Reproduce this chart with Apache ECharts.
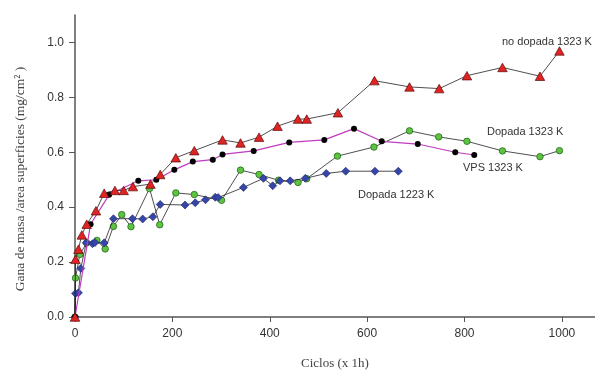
<!DOCTYPE html>
<html>
<head>
<meta charset="utf-8">
<script src="https://cdn.jsdelivr.net/npm/echarts@6.0.0/dist/echarts.min.js"></script>
<style>
html,body{margin:0;padding:0;background:#fff;}
#chart{width:595px;height:375px;}
</style>
</head>
<body>
<div id="chart"></div>
<script>
// ---- data ----
var xTicks = [0, 200, 400, 600, 800, 1000];
var yTicks = [0, 0.2, 0.4, 0.6, 0.8, 1.0];

var noDopada1323X = [0, 1, 7, 14, 24, 43, 60, 82, 100, 119, 155, 175, 207, 245, 303, 340, 378, 416, 458, 476, 540, 615, 687, 748, 805, 878, 955, 995];
var noDopada1323Y = [0, 0.21, 0.247, 0.299, 0.338, 0.387, 0.451, 0.461, 0.461, 0.475, 0.484, 0.519, 0.58, 0.606, 0.645, 0.634, 0.655, 0.695, 0.721, 0.721, 0.744, 0.861, 0.838, 0.832, 0.879, 0.909, 0.877, 0.969];

var vps1323X = [0, 32, 70, 130, 167, 204, 242, 283, 303, 367, 440, 512, 573, 630, 704, 781, 820];
var vps1323Y = [0, 0.338, 0.445, 0.496, 0.5, 0.536, 0.566, 0.573, 0.592, 0.605, 0.636, 0.645, 0.686, 0.64, 0.63, 0.6, 0.59];

var dopada1323X = [0, 1, 10, 24, 45, 62, 79, 96, 115, 153, 174, 207, 245, 301, 340, 378, 418, 458, 476, 539, 614, 687, 747, 805, 878, 955, 995];
var dopada1323Y = [0, 0.142, 0.228, 0.27, 0.279, 0.248, 0.33, 0.373, 0.329, 0.468, 0.336, 0.452, 0.446, 0.425, 0.535, 0.519, 0.498, 0.49, 0.504, 0.586, 0.619, 0.678, 0.656, 0.64, 0.605, 0.584, 0.606];

var dopada1223X = [0, 1, 7, 12, 23, 36, 41, 60, 79, 118, 139, 160, 175, 226, 247, 268, 288, 294, 346, 387, 406, 421, 442, 473, 516, 556, 616, 664];
var dopada1223Y = [0, 0.086, 0.088, 0.177, 0.27, 0.267, 0.271, 0.27, 0.358, 0.358, 0.357, 0.365, 0.41, 0.408, 0.416, 0.427, 0.436, 0.435, 0.472, 0.505, 0.478, 0.496, 0.496, 0.505, 0.523, 0.531, 0.531, 0.531];

var seriesNames = ['Dopada 1323 K', 'Dopada 1223 K', 'VPS 1323 K', 'no dopada 1323 K'];
var xTitle = 'Ciclos (x 1h)';
var yTitle = 'Gana de masa /area superficies (mg/cm\u00B2 )';

function zip(xs, ys) { return xs.map(function (x, i) { return [x, ys[i]]; }); }

var chart = echarts.init(document.getElementById('chart'), null, {renderer: 'canvas'});
var labelFont = 'Liberation Sans, Arial, sans-serif';
var serif = 'Liberation Serif, Times New Roman, serif';

var option = {
  animation: false,
  backgroundColor: '#ffffff',
  grid: {left: 75, right: 0, top: 15, bottom: 47.3, containLabel: false},
  xAxis: {
    type: 'value', min: 0, max: 1068,
    name: xTitle, nameLocation: 'middle', nameGap: 40,
    nameTextStyle: {fontFamily: serif, fontSize: 13, color: '#444'},
    axisLine: {lineStyle: {color: '#555', width: 1.5}},
    axisTick: {show: true, inside: false, length: 5, lineStyle: {color: '#555'}, customValues: xTicks},
    axisLabel: {customValues: xTicks, fontFamily: labelFont, fontSize: 12, color: '#333', margin: 11,
      formatter: function (v) { return String(v); }},
    splitLine: {show: false}
  },
  yAxis: {
    type: 'value', min: 0, max: 1.1,
    axisLine: {show: true, lineStyle: {color: '#555', width: 1.5}},
    axisTick: {show: true, inside: false, length: 6, lineStyle: {color: '#555'}, customValues: yTicks},
    axisLabel: {customValues: yTicks, fontFamily: labelFont, fontSize: 12, color: '#333', margin: 11,
      formatter: function (v) { return v.toFixed(1); }},
    splitLine: {show: false}
  },
  series: [
    {
      name: seriesNames[0], type: 'line', data: zip(dopada1323X, dopada1323Y),
      symbol: 'circle', symbolSize: 6.5,
      itemStyle: {color: '#5cc440', borderColor: '#2a6a20', borderWidth: 0.8},
      lineStyle: {color: '#222', width: 0.8}, z: 2
    },
    {
      name: seriesNames[1], type: 'line', data: zip(dopada1223X, dopada1223Y),
      symbol: 'diamond', symbolSize: 8,
      itemStyle: {color: '#3646a8', borderColor: '#1e2466', borderWidth: 0.6},
      lineStyle: {color: '#222', width: 0.8}, z: 3
    },
    {
      name: seriesNames[2], type: 'line', data: zip(vps1323X, vps1323Y),
      symbol: 'circle', symbolSize: 6,
      itemStyle: {color: '#000000'},
      lineStyle: {color: '#c03cc0', width: 1.2}, z: 4
    },
    {
      name: seriesNames[3], type: 'line', data: zip(noDopada1323X, noDopada1323Y),
      symbol: 'triangle', symbolSize: [9.5, 8.5],
      itemStyle: {color: '#e02424', borderColor: '#5a0a0a', borderWidth: 0.7},
      lineStyle: {color: '#222', width: 0.8}, z: 5
    }
  ],
  graphic: [
    {type: 'text', x: 20, y: 179, rotation: Math.PI / 2,
      style: {text: yTitle, font: '13.5px ' + serif, fill: '#444', align: 'center', verticalAlign: 'middle'}},
    {type: 'text', left: 502, top: 36, style: {text: seriesNames[3], font: '11px ' + labelFont, fill: '#333'}},
    {type: 'text', left: 487, top: 126, style: {text: seriesNames[0], font: '11px ' + labelFont, fill: '#333'}},
    {type: 'text', left: 463, top: 162, style: {text: seriesNames[2], font: '11px ' + labelFont, fill: '#333'}},
    {type: 'text', left: 358, top: 189, style: {text: seriesNames[1], font: '11px ' + labelFont, fill: '#333'}}
  ]
};
chart.setOption(option);
</script>
</body>
</html>
